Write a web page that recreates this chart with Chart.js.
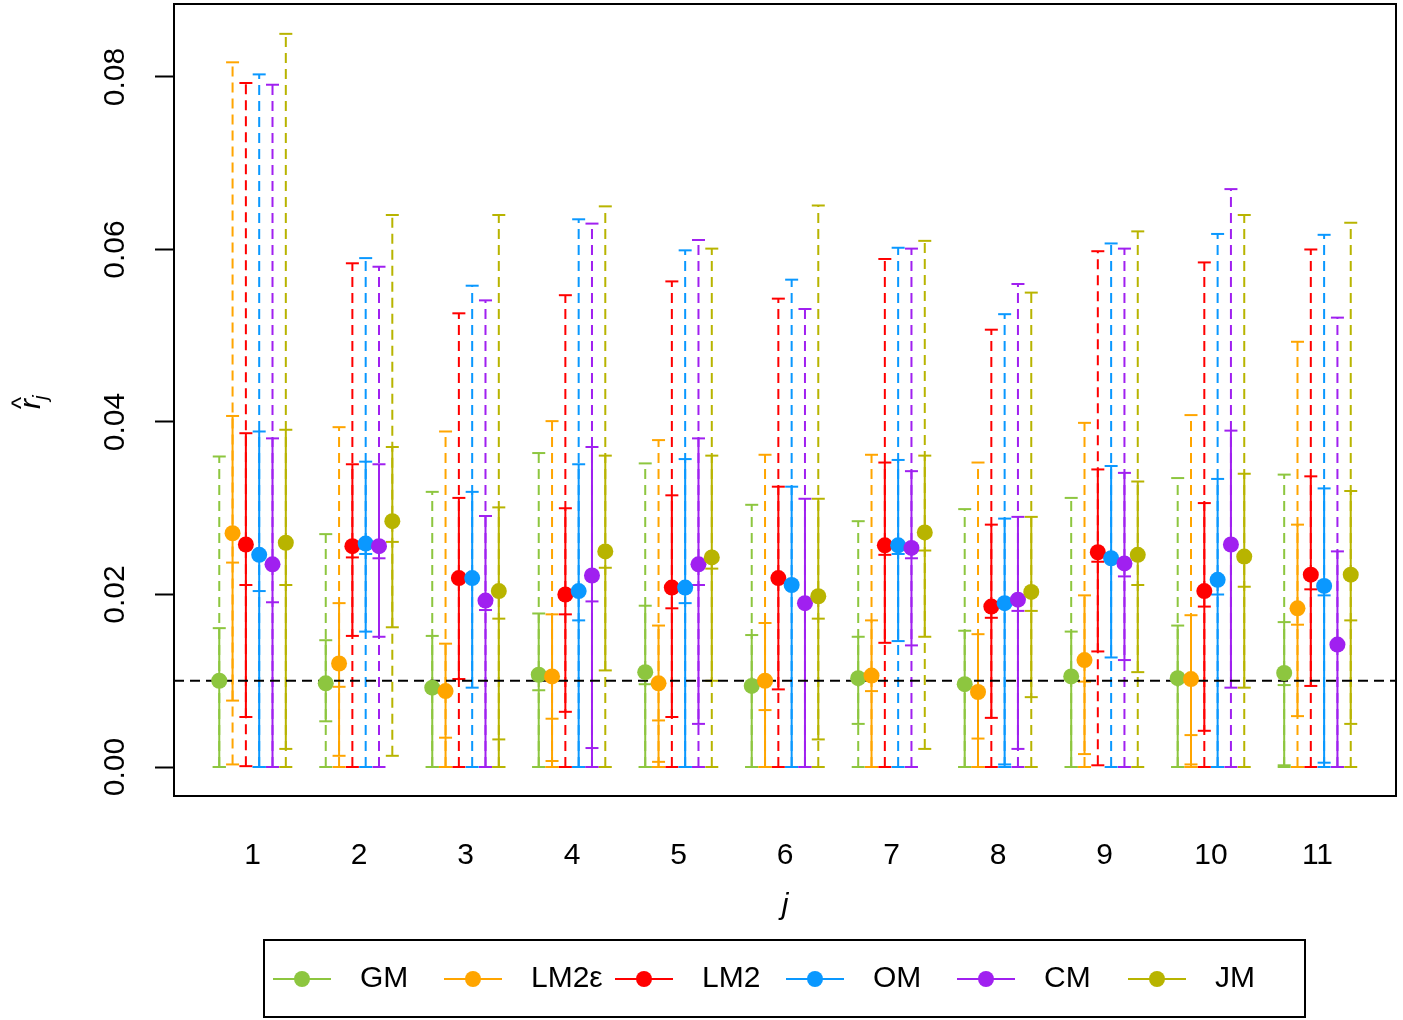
<!DOCTYPE html>
<html>
<head>
<meta charset="utf-8">
<script src="https://cdn.jsdelivr.net/npm/chart.js@4.4.1/dist/chart.umd.min.js"></script>
<style>
  html, body { margin: 0; padding: 0; background: #ffffff; }
  #wrap { width: 1403px; height: 1020px; }
</style>
</head>
<body>
<div id="wrap"><canvas id="c" width="1403" height="1020"></canvas></div>
<script>
// Groups along the x axis and the six estimators
const groups = [1, 2, 3, 4, 5, 6, 7, 8, 9, 10, 11];
const methods = ['GM', 'LM2\u03b5', 'LM2', 'OM', 'CM', 'JM'];
const colors = ['#8DC63F', '#FFA500', '#FF0000', '#0A98FF', '#A020F0', '#B8B400'];
const yTicks = [0, 0.02, 0.04, 0.06, 0.08];
const refLevel = 0.01;

// Point estimates, one row per estimator
const estimate = [
  [0.0100, 0.0097, 0.0092, 0.0107, 0.0110, 0.0094, 0.0103, 0.0096, 0.0105, 0.0103, 0.0109],
  [0.0271, 0.0120, 0.0088, 0.0105, 0.0097, 0.0100, 0.0106, 0.0087, 0.0124, 0.0102, 0.0184],
  [0.0258, 0.0256, 0.0219, 0.0200, 0.0208, 0.0219, 0.0257, 0.0186, 0.0249, 0.0204, 0.0223],
  [0.0246, 0.0259, 0.0219, 0.0204, 0.0208, 0.0211, 0.0257, 0.0190, 0.0242, 0.0217, 0.0210],
  [0.0235, 0.0256, 0.0193, 0.0222, 0.0235, 0.0190, 0.0254, 0.0194, 0.0236, 0.0258, 0.0142],
  [0.0260, 0.0285, 0.0204, 0.0250, 0.0243, 0.0198, 0.0272, 0.0203, 0.0246, 0.0244, 0.0223]
];

// Wide interval (dashed)
const outerHi = [
  [0.0360, 0.0270, 0.0319, 0.0364, 0.0352, 0.0304, 0.0285, 0.0299, 0.0312, 0.0335, 0.0339],
  [0.0817, 0.0394, 0.0389, 0.0401, 0.0379, 0.0362, 0.0362, 0.0353, 0.0399, 0.0408, 0.0493],
  [0.0793, 0.0584, 0.0526, 0.0547, 0.0563, 0.0543, 0.0589, 0.0507, 0.0598, 0.0585, 0.0600],
  [0.0803, 0.0590, 0.0558, 0.0635, 0.0599, 0.0565, 0.0602, 0.0525, 0.0607, 0.0618, 0.0617],
  [0.0791, 0.0580, 0.0541, 0.0630, 0.0611, 0.0531, 0.0601, 0.0560, 0.0601, 0.0670, 0.0521],
  [0.0850, 0.0640, 0.0640, 0.0650, 0.0601, 0.0651, 0.0610, 0.0550, 0.0621, 0.0640, 0.0631]
];
const outerLo = [
  [0, 0, 0, 0, 0, 0, 0, 0, 0, 0, 0],
  [0.0003, 0, 0, 0, 0, 0, 0, 0, 0, 0, 0],
  [0.0001, 0, 0, 0, 0, 0, 0, 0, 0.0002, 0, 0],
  [0, 0, 0, 0, 0, 0, 0, 0, 0, 0, 0],
  [0, 0, 0, 0, 0, 0, 0, 0, 0, 0, 0],
  [0, 0.0013, 0, 0, 0, 0, 0.0021, 0, 0, 0, 0]
];

// Narrow interval (solid)
const innerHi = [
  [0.0161, 0.0147, 0.0152, 0.0178, 0.0187, 0.0153, 0.0151, 0.0158, 0.0157, 0.0164, 0.0168],
  [0.0407, 0.0190, 0.0143, 0.0177, 0.0164, 0.0167, 0.0170, 0.0154, 0.0199, 0.0176, 0.0281],
  [0.0387, 0.0351, 0.0312, 0.0300, 0.0315, 0.0325, 0.0353, 0.0281, 0.0345, 0.0306, 0.0337],
  [0.0389, 0.0354, 0.0319, 0.0351, 0.0357, 0.0325, 0.0356, 0.0288, 0.0349, 0.0334, 0.0323],
  [0.0381, 0.0351, 0.0291, 0.0371, 0.0381, 0.0311, 0.0343, 0.0290, 0.0341, 0.0390, 0.0250],
  [0.0391, 0.0371, 0.0301, 0.0361, 0.0361, 0.0311, 0.0361, 0.0290, 0.0331, 0.0340, 0.0320]
];
const innerLo = [
  [0, 0.0053, 0, 0, 0, 0, 0.0050, 0, 0, 0, 0.0002],
  [0.0077, 0.0013, 0, 0, 0, 0, 0, 0, 0.0015, 0, 0.0059],
  [0.0058, 0.0152, 0.0102, 0.0064, 0.0058, 0.0090, 0.0144, 0.0057, 0.0134, 0.0042, 0.0094],
  [0, 0.0157, 0.0092, 0, 0, 0, 0.0146, 0.0003, 0.0127, 0, 0.0005],
  [0, 0.0151, 0, 0, 0.0050, 0, 0.0141, 0.0021, 0.0124, 0.0092, 0],
  [0.0021, 0.0162, 0, 0.0112, 0.0100, 0.0032, 0.0151, 0.0081, 0.0110, 0.0092, 0.0050]
];

// Extra tick marks on the bars (null where there is none)
const markA = [
  [null, null, null, 0.0089, 0.0096, null, null, null, null, null, 0.0095],
  [0.0237, 0.0093, 0.0034, 0.0056, 0.0054, 0.0066, 0.0088, 0.0033, 0.0099, 0.0037, 0.0165],
  [0.0211, 0.0243, null, 0.0177, 0.0184, null, 0.0246, 0.0173, 0.0238, 0.0186, 0.0206],
  [0.0204, 0.0247, null, 0.0170, 0.0190, null, 0.0247, null, null, 0.0200, 0.0199],
  [0.0191, 0.0242, 0.0182, 0.0192, 0.0211, null, 0.0242, 0.0181, 0.0221, null, null],
  [0.0211, 0.0261, 0.0172, 0.0231, 0.0230, 0.0172, 0.0251, 0.0181, 0.0211, 0.0209, 0.0170]
];
const markB = [
  [null, null, null, null, null, null, null, null, null, null, null],
  [null, null, null, 0.0007, 0.0006, null, null, null, null, 0.0003, null],
  [null, null, null, null, null, null, null, null, null, null, null],
  [null, null, null, null, null, null, null, null, null, null, null],
  [null, null, null, 0.0022, null, null, null, null, null, null, null],
  [null, null, 0.0032, null, null, null, null, null, null, null, null]
];

const FONT = '"Liberation Sans", Arial, sans-serif';
const dodge = 0.125;                       // horizontal spacing of estimators within a group
const offsetOf = k => (k - (methods.length - 1) / 2) * dodge;
const DASH = [10, 6];
const HALF_TICK = 6.5;
const DOT_R = 8;

const datasets = methods.map((name, k) => ({
  label: name,
  data: groups.map((g, i) => ({ x: g + offsetOf(k), y: estimate[k][i] })),
  backgroundColor: colors[k],
  borderColor: colors[k],
  pointRadius: DOT_R,
  pointBorderWidth: 0,
  pointHoverRadius: DOT_R,
  showLine: false,
  order: methods.length - 1 - k
}));

const intervalPlugin = {
  id: 'intervals',
  beforeDatasetsDraw(chart) {
    const { ctx, chartArea: a, scales: { x, y } } = chart;
    ctx.save();
    ctx.lineCap = 'butt';
    ctx.lineWidth = 2;
    const hTick = (px, v) => {
      const py = y.getPixelForValue(v);
      ctx.beginPath();
      ctx.moveTo(px - HALF_TICK, py);
      ctx.lineTo(px + HALF_TICK, py);
      ctx.stroke();
    };
    methods.forEach((m, k) => {
      ctx.strokeStyle = colors[k];
      groups.forEach((g, i) => {
        const px = x.getPixelForValue(g + offsetOf(k));
        // dashed wide interval
        ctx.setLineDash(DASH);
        ctx.beginPath();
        ctx.moveTo(px, y.getPixelForValue(outerLo[k][i]));
        ctx.lineTo(px, y.getPixelForValue(outerHi[k][i]));
        ctx.stroke();
        // solid narrow interval
        ctx.setLineDash([]);
        ctx.beginPath();
        ctx.moveTo(px, y.getPixelForValue(innerLo[k][i]));
        ctx.lineTo(px, y.getPixelForValue(innerHi[k][i]));
        ctx.stroke();
        // end caps and tick marks
        hTick(px, outerLo[k][i]);
        hTick(px, outerHi[k][i]);
        hTick(px, innerLo[k][i]);
        hTick(px, innerHi[k][i]);
        if (markA[k][i] !== null) hTick(px, markA[k][i]);
        if (markB[k][i] !== null) hTick(px, markB[k][i]);
      });
    });
    // horizontal reference level
    const ry = y.getPixelForValue(refLevel);
    ctx.strokeStyle = '#000';
    ctx.lineWidth = 2;
    ctx.setLineDash(DASH);
    ctx.beginPath();
    ctx.moveTo(a.left, ry);
    ctx.lineTo(a.right, ry);
    ctx.stroke();
    ctx.restore();
  },
  afterDraw(chart) {
    const { ctx, chartArea: a } = chart;
    ctx.save();
    // plot frame
    ctx.strokeStyle = '#000';
    ctx.lineWidth = 2;
    ctx.setLineDash([]);
    ctx.strokeRect(a.left, a.top, a.right - a.left, a.bottom - a.top);

    // x axis title
    ctx.fillStyle = '#000';
    ctx.font = 'italic 30px ' + FONT;
    ctx.textAlign = 'center';
    ctx.textBaseline = 'alphabetic';
    ctx.fillText('j', (a.left + a.right) / 2, 914);

    // y axis title: r-hat with subscript j, rotated
    ctx.save();
    ctx.translate(40, 409);
    ctx.rotate(-Math.PI / 2);
    ctx.textAlign = 'left';
    ctx.font = 'italic 30px ' + FONT;
    ctx.fillText('r', 0, 0);
    const rw = ctx.measureText('r').width;
    ctx.font = 'italic 21px ' + FONT;
    ctx.fillText('j', rw - 1, 7);
    ctx.font = '26px ' + FONT;
    ctx.textAlign = 'center';
    ctx.fillText('^', rw / 2 + 1, -10);
    ctx.restore();

    // legend
    const lx = 264, ly = 940, lw = 1041, lh = 77;
    ctx.lineWidth = 2;
    ctx.strokeRect(lx, ly, lw, lh);
    const cy = ly + lh / 2 + 0.5;
    methods.forEach((name, k) => {
      const x0 = 273 + k * 171;
      ctx.strokeStyle = colors[k];
      ctx.beginPath();
      ctx.moveTo(x0, cy);
      ctx.lineTo(x0 + 58, cy);
      ctx.stroke();
      ctx.fillStyle = colors[k];
      ctx.beginPath();
      ctx.arc(x0 + 29, cy, DOT_R, 0, Math.PI * 2);
      ctx.fill();
      ctx.fillStyle = '#000';
      ctx.font = '30px ' + FONT;
      ctx.textAlign = 'left';
      ctx.textBaseline = 'middle';
      ctx.fillText(name, x0 + 87, cy);
    });
    ctx.restore();
  }
};

new Chart(document.getElementById('c'), {
  type: 'scatter',
  data: { datasets },
  options: {
    responsive: false,
    animation: false,
    events: [],
    layout: { autoPadding: false, padding: { left: 0, top: 4, right: 7, bottom: 0 } },
    plugins: { legend: { display: false }, tooltip: { enabled: false } },
    scales: {
      x: {
        type: 'linear',
        min: 0.2625,
        max: 11.7375,
        afterBuildTicks: s => { s.ticks = groups.map(v => ({ value: v })); },
        afterFit: s => { s.height = 224; s.paddingLeft = 0; s.paddingRight = 0; },
        grid: { display: false, drawTicks: false },
        border: { display: false },
        ticks: {
          padding: 42,
          color: '#000',
          font: { family: FONT, size: 30 },
          maxRotation: 0,
          autoSkip: false,
          callback: v => String(v)
        }
      },
      y: {
        type: 'linear',
        min: -0.00336,
        max: 0.08846,
        afterBuildTicks: s => { s.ticks = yTicks.map(v => ({ value: v })); },
        afterFit: s => { s.width = 174; s.paddingTop = 0; s.paddingBottom = 0; },
        grid: { display: true, drawOnChartArea: false, drawTicks: true, tickLength: 19, tickColor: '#000', tickWidth: 2 },
        border: { display: false },
        ticks: {
          padding: 10,
          color: '#000',
          minRotation: 90,
          maxRotation: 90,
          crossAlign: 'center',
          autoSkip: false,
          font: { family: FONT, size: 30 },
          callback: v => v.toFixed(2)
        }
      }
    }
  },
  plugins: [intervalPlugin]
});
</script>
</body>
</html>
